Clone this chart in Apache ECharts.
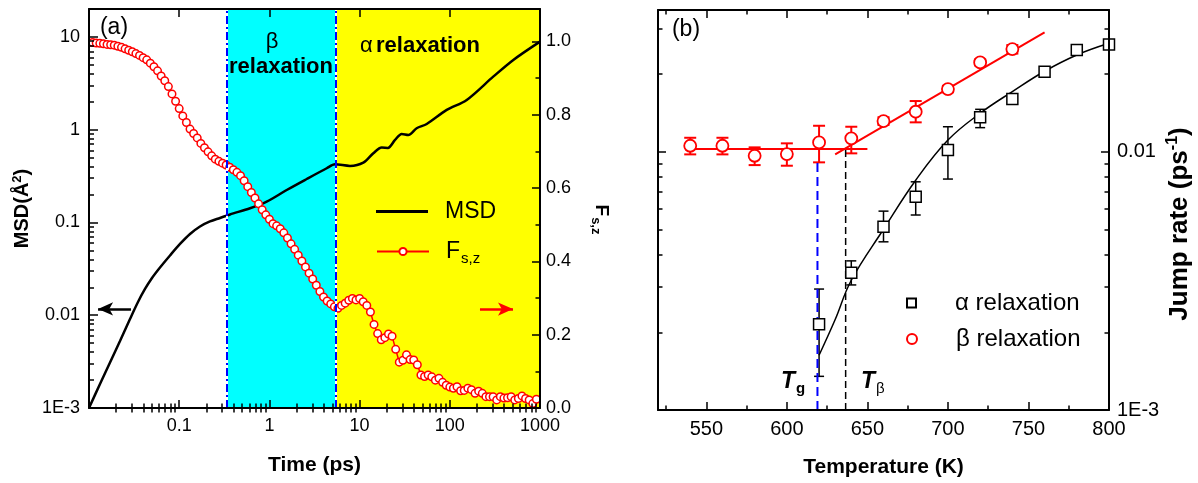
<!DOCTYPE html>
<html>
<head>
<meta charset="utf-8">
<script src="https://cdn.jsdelivr.net/npm/echarts@6/dist/echarts.min.js"></script>
<style>
  html, body { margin: 0; padding: 0; background: #fff; }
  #chart { width: 1198px; height: 483px; }
</style>
</head>
<body>
<div id="chart"></div>
<script>
// ---------- panel (a): mean square displacement and F_s,z(t) ----------
const timeTicks = [0.1, 1, 10, 100, 1000];
const msdTicks = [0.001, 0.01, 0.1, 1, 10];
const fszTicks = [0, 0.2, 0.4, 0.6, 0.8, 1.0];
const fszMinorTicks = [0.1, 0.3, 0.5, 0.7, 0.9];

const msdTime = [0.01, 0.01324, 0.0171, 0.02207, 0.02848, 0.03493, 0.04177, 0.04994, 0.06125, 0.0791,
  0.1021, 0.1318, 0.1701, 0.2195, 0.2834, 0.3658, 0.61, 0.933,
  1.556, 2.59, 4.32, 5.34, 7.83, 11.0, 14.2, 17.6, 20.6, 24.7, 29.3, 34.7, 42.9, 55.5,
  92.4, 154, 303, 506, 1000];
const msdValue = [0.001, 0.001815, 0.003095, 0.005277, 0.00911, 0.01389, 0.01919, 0.02521, 0.03272, 0.04409,
  0.05865, 0.07516, 0.09055, 0.1025, 0.1118, 0.122, 0.1423, 0.1676,
  0.224, 0.294, 0.384, 0.424, 0.407, 0.441, 0.557, 0.641, 0.636, 0.775, 0.9, 0.877, 1.037, 1.153,
  1.633, 2.093, 3.73, 5.65, 8.9];

const fszTime = [
  0.01096, 0.01202, 0.01318, 0.01445, 0.01585, 0.01738, 0.01905, 0.02089, 0.02291, 0.02512, 0.02754, 0.0302,
  0.03311, 0.03631, 0.03981, 0.04365, 0.04786, 0.05248, 0.05754, 0.0631, 0.06918, 0.07586, 0.08318, 0.0912,
  0.1, 0.1096, 0.1202, 0.1318, 0.1445, 0.1585, 0.1738, 0.1905, 0.2089, 0.2291, 0.2512, 0.2754, 0.302,
  0.3311, 0.3631, 0.3981, 0.4365, 0.4786, 0.5248, 0.5754, 0.631, 0.6918, 0.7586, 0.8318, 0.912,
  1, 1.096, 1.202, 1.318, 1.445, 1.585, 1.738, 1.905, 2.089, 2.291, 2.512, 2.754, 3.02,
  3.311, 3.631, 3.981, 4.365, 4.786, 5.248, 5.754, 6.31, 6.918, 7.586, 8.318, 9.12,
  10, 10.96, 12.02, 13.18, 14.45, 15.85, 17.38, 19.05, 20.89, 22.91, 25.12, 27.54, 30.2,
  33.11, 36.31, 39.81, 43.65, 47.86, 52.48, 57.54, 63.1, 69.18, 75.86, 83.18, 91.2,
  100, 109.6, 120.2, 131.8, 144.5, 158.5, 173.8, 190.5, 208.9, 229.1, 251.2, 275.4, 302,
  331.1, 363.1, 398.1, 436.5, 478.6, 524.8, 575.4, 631, 691.8, 758.6, 831.8, 912];
const fszValue = [
  0.997, 0.996, 0.995, 0.994, 0.992, 0.991, 0.990, 0.987, 0.984, 0.980, 0.976, 0.972,
  0.967, 0.962, 0.956, 0.950, 0.941, 0.931, 0.920, 0.906, 0.893, 0.877, 0.857, 0.837,
  0.817, 0.797, 0.779, 0.761, 0.749, 0.737, 0.722, 0.710, 0.699, 0.688, 0.679, 0.673, 0.668,
  0.663, 0.657, 0.650, 0.643, 0.634, 0.620, 0.604, 0.588, 0.573, 0.557, 0.541, 0.527,
  0.515, 0.503, 0.497, 0.489, 0.478, 0.464, 0.448, 0.433, 0.417, 0.401, 0.385, 0.368, 0.352,
  0.335, 0.318, 0.303, 0.292, 0.284, 0.276, 0.272, 0.280, 0.286, 0.294, 0.299, 0.295,
  0.299, 0.290, 0.280, 0.262, 0.228, 0.203, 0.186, 0.192, 0.202, 0.196, 0.160, 0.125, 0.130,
  0.145, 0.132, 0.131, 0.118, 0.090, 0.086, 0.090, 0.085, 0.076, 0.081, 0.070, 0.062,
  0.057, 0.054, 0.058, 0.047, 0.048, 0.054, 0.050, 0.040, 0.046, 0.040, 0.031, 0.031, 0.031,
  0.022, 0.031, 0.027, 0.028, 0.031, 0.022, 0.026, 0.033, 0.026, 0.022, 0.012, 0.024];

// time windows of the two relaxation regimes (ps)
const betaWindow = [0.336, 5.47];
const alphaWindow = [5.47, 1000];

// axis-pointing arrows: [from, to] in time, and the level they sit at
const msdArrowTime = [0.0292, 0.0126];
const msdArrowLevel = 0.0117;
const fszArrowTime = [216, 502];
const fszArrowLevel = 0.27;

// ---------- panel (b): jump rates versus temperature ----------
const tempTicks = [550, 600, 650, 700, 750, 800];
const tempMinorTicks = [525, 575, 625, 675, 725, 775];
const rateTicks = [0.001, 0.01];

const alphaT = [620, 640, 660, 680, 700, 720, 740, 760, 780, 800];
const alphaRate = [0.00215, 0.0034, 0.00512, 0.0067, 0.01015, 0.0136, 0.016, 0.0204, 0.0248, 0.026];
const alphaLo = [0.00135, 0.00305, 0.00448, 0.00569, 0.00784, 0.0124, 0.0157, 0.0201, 0.0245, 0.0258];
const alphaHi = [0.00294, 0.00378, 0.00589, 0.00765, 0.0125, 0.0146, 0.0163, 0.0207, 0.0251, 0.0262];

const betaT = [540, 560, 580, 600, 620, 640, 660, 680, 700, 720, 740];
const betaRate = [0.01055, 0.01055, 0.00965, 0.0098, 0.01087, 0.01127, 0.01315, 0.01429, 0.01749, 0.02219, 0.02498];
const betaLo = [0.00977, 0.00977, 0.00888, 0.00883, 0.0091, 0.00986, 0.0127, 0.013, 0.0170, 0.0216, 0.0240];
const betaHi = [0.01133, 0.01133, 0.0104, 0.01078, 0.01261, 0.0125, 0.0136, 0.01572, 0.0180, 0.0228, 0.0259];

const alphaFitT = [620, 630, 640, 660, 680, 700, 720, 740, 760, 780, 800];
const alphaFitRate = [0.00163, 0.00224, 0.00318, 0.00501, 0.00776, 0.0111, 0.0141, 0.0171, 0.0205, 0.0237, 0.0263];
const betaPlateauT = [540, 650];
const betaPlateauRate = [0.01024, 0.01024];
const betaRiseT = [630, 760];
const betaRiseRate = [0.00977, 0.029];

const glassT = 619;       // T_g
const glassTop = 0.0091;
const betaOnsetT = 636.5; // T_beta
const betaOnsetTop = 0.0102;

// ---------- helpers ----------
const FONT = '"Liberation Sans", Arial, Helvetica, sans-serif';
const BLACK = '#000';
const frameLine = { show: true, onZero: false, lineStyle: { color: BLACK, width: 2 } };

function decadeMinors(decades, limit) {
  const out = [];
  decades.forEach(d => {
    for (let k = 2; k <= 9; k++) {
      const v = +(k * d).toPrecision(6);
      if (v <= limit) out.push(v);
    }
  });
  return out;
}

const LOG_NAMES = { '-3': '1E-3', '-2': '0.01', '-1': '0.1', '0': '1', '1': '10', '2': '100', '3': '1000' };
function logLabel(v) { return LOG_NAMES[String(Math.round(Math.log10(v)))]; }

// one axis of the frame: ticks point inwards, optional line and labels
function frameAxis(base, o) {
  const ax = Object.assign({}, base, {
    axisLine: o.line ? frameLine : { show: false },
    axisTick: { show: true, inside: true, length: o.len, customValues: o.ticks,
                lineStyle: { color: BLACK, width: 1.5 } },
    axisLabel: o.labels
      ? Object.assign({ show: true, customValues: o.labels, color: BLACK, fontFamily: FONT }, o.labelStyle)
      : { show: false },
    splitLine: { show: false },
    minorTick: { show: false },
    z: 10
  });
  return Object.assign(ax, o.extra || {});
}

function errorBars(color, cap, width) {
  return function (params, api) {
    const t = api.value(0);
    const lo = api.coord([t, api.value(1)]);
    const hi = api.coord([t, api.value(2)]);
    const st = { stroke: color, lineWidth: width };
    return {
      type: 'group',
      children: [
        { type: 'line', shape: { x1: lo[0], y1: lo[1], x2: hi[0], y2: hi[1] }, style: st },
        { type: 'line', shape: { x1: lo[0] - cap, y1: lo[1], x2: lo[0] + cap, y2: lo[1] }, style: st },
        { type: 'line', shape: { x1: hi[0] - cap, y1: hi[1], x2: hi[0] + cap, y2: hi[1] }, style: st }
      ]
    };
  };
}

const zip = (a, b) => a.map((v, i) => [v, b[i]]);

// ---------- axes ----------
const timeBase = { type: 'log', logBase: 10, min: 0.01, max: 1000, gridIndex: 0 };
const msdBase = { type: 'log', logBase: 10, min: 0.001, max: 20, gridIndex: 0 };
const fszBase = { type: 'value', min: 0, max: 1.0887, gridIndex: 0 };
const tempBase = { type: 'value', min: 520, max: 800, gridIndex: 1 };
const rateBase = { type: 'log', logBase: 10, min: 0.001, max: 0.0354, gridIndex: 1 };

const timeMinor = decadeMinors([0.01, 0.1, 1, 10, 100], 1000);
const msdMinor = decadeMinors([0.001, 0.01, 0.1, 1, 10], 20);
const rateMinor = decadeMinors([0.001, 0.01], 0.0354);

const titleStyle = { fontFamily: FONT, fontWeight: 'bold', color: BLACK };

const xAxes = [
  frameAxis(Object.assign({ position: 'bottom' }, timeBase), {
    line: true, len: 8, ticks: timeTicks, labels: timeTicks,
    labelStyle: { fontSize: 18, margin: 9, formatter: logLabel },
    extra: { name: 'Time (ps)', nameLocation: 'middle', nameGap: 47,
             nameTextStyle: Object.assign({ fontSize: 21 }, titleStyle) }
  }),
  frameAxis(Object.assign({ position: 'bottom' }, timeBase), { line: false, len: 4.5, ticks: timeMinor }),
  frameAxis(Object.assign({ position: 'top' }, timeBase), { line: true, len: 8, ticks: timeTicks }),
  frameAxis(Object.assign({ position: 'top' }, timeBase), { line: false, len: 4.5, ticks: timeMinor }),

  frameAxis(Object.assign({ position: 'bottom' }, tempBase), {
    line: true, len: 8, ticks: tempTicks, labels: tempTicks,
    labelStyle: { fontSize: 20, margin: 9 },
    extra: { name: 'Temperature (K)', nameLocation: 'middle', nameGap: 47,
             nameTextStyle: Object.assign({ fontSize: 21 }, titleStyle) }
  }),
  frameAxis(Object.assign({ position: 'bottom' }, tempBase), { line: false, len: 4.5, ticks: tempMinorTicks }),
  frameAxis(Object.assign({ position: 'top' }, tempBase), { line: true, len: 8, ticks: tempTicks }),
  frameAxis(Object.assign({ position: 'top' }, tempBase), { line: false, len: 4.5, ticks: tempMinorTicks })
];

const yAxes = [
  frameAxis(Object.assign({ position: 'left' }, msdBase), {
    line: true, len: 9, ticks: msdTicks, labels: msdTicks,
    labelStyle: { fontSize: 18, margin: 9, formatter: logLabel },
    extra: {
      name: '{a|MSD(Å}{p|2}{a|)}', nameLocation: 'middle', nameGap: 55,
      nameTextStyle: { rich: {
        a: Object.assign({ fontSize: 20 }, titleStyle),
        p: Object.assign({ fontSize: 13, padding: [0, 0, 10, 0] }, titleStyle)
      } }
    }
  }),
  frameAxis(Object.assign({ position: 'left' }, msdBase), { line: false, len: 5, ticks: msdMinor }),
  frameAxis(Object.assign({ position: 'right' }, fszBase), {
    line: true, len: 8, ticks: fszTicks, labels: fszTicks,
    labelStyle: { fontSize: 18, margin: 6, formatter: v => v.toFixed(1) },
    extra: {
      name: '{f|F}{s|s,z}', nameLocation: 'middle', nameGap: 49, nameRotate: -90,
      nameTextStyle: { padding: [0, 0, 0, 22], rich: {
        f: Object.assign({ fontSize: 19 }, titleStyle),
        s: Object.assign({ fontSize: 13, padding: [12, 0, 0, 1] }, titleStyle)
      } }
    }
  }),
  frameAxis(Object.assign({ position: 'right' }, fszBase), { line: false, len: 4.5, ticks: fszMinorTicks }),

  frameAxis(Object.assign({ position: 'right' }, rateBase), {
    line: true, len: 8, ticks: rateTicks, labels: rateTicks,
    labelStyle: { fontSize: 20, margin: 8, formatter: logLabel },
    extra: {
      name: '{a|Jump rate (ps}{p|-1}{a|)}', nameLocation: 'middle', nameGap: 56,
      nameTextStyle: { padding: [0, 28, 0, 0], rich: {
        a: Object.assign({ fontSize: 26 }, titleStyle),
        p: Object.assign({ fontSize: 16, padding: [0, 0, 13, 0] }, titleStyle)
      } }
    }
  }),
  frameAxis(Object.assign({ position: 'right' }, rateBase), { line: false, len: 4.5, ticks: rateMinor }),
  frameAxis(Object.assign({ position: 'left' }, rateBase), { line: true, len: 8, ticks: rateTicks }),
  frameAxis(Object.assign({ position: 'left' }, rateBase), { line: false, len: 4.5, ticks: rateMinor })
];

// ---------- series ----------
const RED = '#FF0000';
const BLUE = '#0000FF';

const series = [
  // shaded relaxation windows with a white strip under each boundary
  {
    name: 'windows', type: 'line', xAxisIndex: 0, yAxisIndex: 2, data: [], z: 1, silent: true,
    markArea: {
      silent: true,
      data: [
        [{ xAxis: betaWindow[0], itemStyle: { color: '#00FFFF', opacity: 1 } }, { xAxis: betaWindow[1] }],
        [{ xAxis: alphaWindow[0], itemStyle: { color: '#FFFF00', opacity: 1 } }, { xAxis: alphaWindow[1] }]
      ]
    },
    markLine: {
      silent: true, symbol: 'none', label: { show: false },
      lineStyle: { color: '#fff', width: 2, type: 'solid' },
      data: [{ xAxis: betaWindow[0] }, { xAxis: betaWindow[1] }]
    }
  },
  {
    name: 'bounds', type: 'line', xAxisIndex: 0, yAxisIndex: 2, data: [], z: 2, silent: true,
    markLine: {
      silent: true, symbol: 'none', label: { show: false },
      lineStyle: { color: BLUE, width: 2, type: [8, 3, 2, 3] },
      data: [{ xAxis: betaWindow[0] }, { xAxis: betaWindow[1] }]
    }
  },
  {
    name: 'MSD', type: 'line', xAxisIndex: 0, yAxisIndex: 0, z: 3,
    data: zip(msdTime, msdValue), smooth: 0.3, symbol: 'none',
    lineStyle: { color: BLACK, width: 2.5 }, itemStyle: { color: BLACK },
    markLine: {
      silent: true, symbol: ['none', 'arrow'], symbolSize: [10, 15], label: { show: false },
      lineStyle: { color: BLACK, width: 2.5, type: 'solid' },
      data: [[{ coord: [msdArrowTime[0], msdArrowLevel] }, { coord: [msdArrowTime[1], msdArrowLevel] }]]
    }
  },
  {
    name: 'Fsz', type: 'line', xAxisIndex: 0, yAxisIndex: 2, z: 4,
    data: zip(fszTime, fszValue), symbol: 'circle', symbolSize: 7.5, showAllSymbol: true,
    lineStyle: { color: RED, width: 1.5 },
    itemStyle: { color: '#fff', borderColor: RED, borderWidth: 1.5 },
    markLine: {
      silent: true, symbol: ['none', 'arrow'], symbolSize: [10, 15], label: { show: false },
      lineStyle: { color: RED, width: 2.5, type: 'solid' },
      data: [[{ coord: [fszArrowTime[0], fszArrowLevel] }, { coord: [fszArrowTime[1], fszArrowLevel] }]]
    }
  },

  // panel (b)
  {
    name: 'alpha errors', type: 'custom', xAxisIndex: 4, yAxisIndex: 4, z: 3,
    data: alphaT.map((t, i) => [t, alphaLo[i], alphaHi[i]]),
    encode: { x: 0, y: [1, 2] }, renderItem: errorBars(BLACK, 5, 1.5)
  },
  {
    name: 'beta errors', type: 'custom', xAxisIndex: 4, yAxisIndex: 4, z: 3,
    data: betaT.map((t, i) => [t, betaLo[i], betaHi[i]]),
    encode: { x: 0, y: [1, 2] }, renderItem: errorBars(RED, 6, 2)
  },
  {
    name: 'alpha fit', type: 'line', xAxisIndex: 4, yAxisIndex: 4, z: 4,
    data: zip(alphaFitT, alphaFitRate), smooth: 0.4, symbol: 'none',
    lineStyle: { color: BLACK, width: 1.5 }
  },
  {
    name: 'beta plateau', type: 'line', xAxisIndex: 4, yAxisIndex: 4, z: 4,
    data: zip(betaPlateauT, betaPlateauRate), symbol: 'none',
    lineStyle: { color: RED, width: 2 }
  },
  {
    name: 'beta rise', type: 'line', xAxisIndex: 4, yAxisIndex: 4, z: 4,
    data: zip(betaRiseT, betaRiseRate), symbol: 'none',
    lineStyle: { color: RED, width: 2 }
  },
  {
    name: 'Tg', type: 'line', xAxisIndex: 4, yAxisIndex: 4, z: 4,
    data: [[glassT, 0.001], [glassT, glassTop]], symbol: 'none',
    lineStyle: { color: BLUE, width: 2, type: [9, 5] }
  },
  {
    name: 'Tbeta', type: 'line', xAxisIndex: 4, yAxisIndex: 4, z: 4,
    data: [[betaOnsetT, 0.001], [betaOnsetT, betaOnsetTop]], symbol: 'none',
    lineStyle: { color: BLACK, width: 1.5, type: [7, 4] }
  },
  {
    name: 'α relaxation', type: 'scatter', xAxisIndex: 4, yAxisIndex: 4, z: 6,
    data: zip(alphaT, alphaRate), symbol: 'rect', symbolSize: 11,
    itemStyle: { color: '#fff', borderColor: BLACK, borderWidth: 1.5, opacity: 1 }
  },
  {
    name: 'β relaxation', type: 'scatter', xAxisIndex: 4, yAxisIndex: 4, z: 6,
    data: zip(betaT, betaRate), symbol: 'circle', symbolSize: 12,
    itemStyle: { color: '#fff', borderColor: RED, borderWidth: 1.8, opacity: 1 }
  }
];

// ---------- legends ----------
const legendText = { fontFamily: FONT, color: BLACK };
const legends = [
  { data: ['MSD'], left: 376, top: 200, padding: 0, icon: 'rect', itemWidth: 52, itemHeight: 3, selectedMode: false,
    itemStyle: { color: BLACK },
    textStyle: Object.assign({ fontSize: 23, padding: [0, 0, 0, 12] }, legendText) },
  { data: ['Fsz'], left: 376, top: 240, padding: 0, itemWidth: 52, itemHeight: 9, selectedMode: false,
    formatter: () => '{f|F}{s|s,z}',
    textStyle: Object.assign({ padding: [0, 0, 0, 12], rich: {
      f: { fontSize: 23, fontFamily: FONT, color: BLACK },
      s: { fontSize: 15, fontFamily: FONT, color: BLACK, padding: [14, 0, 0, 1] }
    } }, legendText) },
  { data: ['α relaxation'], left: 906, top: 291, padding: 0, itemWidth: 9, itemHeight: 9, selectedMode: false,
    textStyle: Object.assign({ fontSize: 24, padding: [0, 0, 0, 34] }, legendText) },
  { data: ['β relaxation'], left: 906, top: 327, padding: 0, itemWidth: 10, itemHeight: 10, selectedMode: false,
    textStyle: Object.assign({ fontSize: 24, padding: [0, 0, 0, 34] }, legendText) }
];

// ---------- free text ----------
const graphics = [
  { type: 'text', x: 114, y: 28, z: 20,
    style: { text: '(a)', fontSize: 23, fontFamily: FONT, fill: BLACK, align: 'center', verticalAlign: 'middle' } },
  { type: 'text', x: 686, y: 30, z: 20,
    style: { text: '(b)', fontSize: 23, fontFamily: FONT, fill: BLACK, align: 'center', verticalAlign: 'middle' } },
  { type: 'text', x: 272, y: 42, z: 20,
    style: { text: 'β', fontSize: 22, fontFamily: FONT, fill: BLACK, align: 'center', verticalAlign: 'middle' } },
  { type: 'text', x: 281, y: 67, z: 20,
    style: { text: 'relaxation', fontSize: 22, fontWeight: 'bold', fontFamily: FONT, fill: BLACK,
             align: 'center', verticalAlign: 'middle' } },
  { type: 'text', x: 420, y: 46, z: 20,
    style: { text: '{g|α} {b|relaxation}', align: 'center', verticalAlign: 'middle',
             rich: { g: { fontSize: 22, fontFamily: FONT, fill: BLACK },
                     b: { fontSize: 22, fontFamily: FONT, fontWeight: 'bold', fill: BLACK } } } },
  { type: 'text', x: 781, y: 382, z: 20,
    style: { text: '{t|T}{s|g}', align: 'left', verticalAlign: 'middle',
             rich: { t: { fontSize: 23, fontFamily: FONT, fontWeight: 'bold', fontStyle: 'italic', fill: BLACK },
                     s: { fontSize: 15, fontFamily: FONT, fontWeight: 'bold', fill: BLACK, padding: [14, 0, 0, 1] } } } },
  { type: 'text', x: 861, y: 382, z: 20,
    style: { text: '{t|T}{s|β}', align: 'left', verticalAlign: 'middle',
             rich: { t: { fontSize: 23, fontFamily: FONT, fontWeight: 'bold', fontStyle: 'italic', fill: BLACK },
                     s: { fontSize: 15, fontFamily: FONT, fill: BLACK, padding: [14, 0, 0, 1] } } } }
];

const chart = echarts.init(document.getElementById('chart'), null, { renderer: 'canvas' });
chart.setOption({
  animation: false,
  backgroundColor: '#fff',
  textStyle: { fontFamily: FONT },
  grid: [
    { left: 89, top: 9, width: 451, height: 399 },
    { left: 658, top: 10, width: 451, height: 400 }
  ],
  xAxis: xAxes,
  yAxis: yAxes,
  legend: legends,
  graphic: graphics,
  series: series
});
</script>
</body>
</html>
